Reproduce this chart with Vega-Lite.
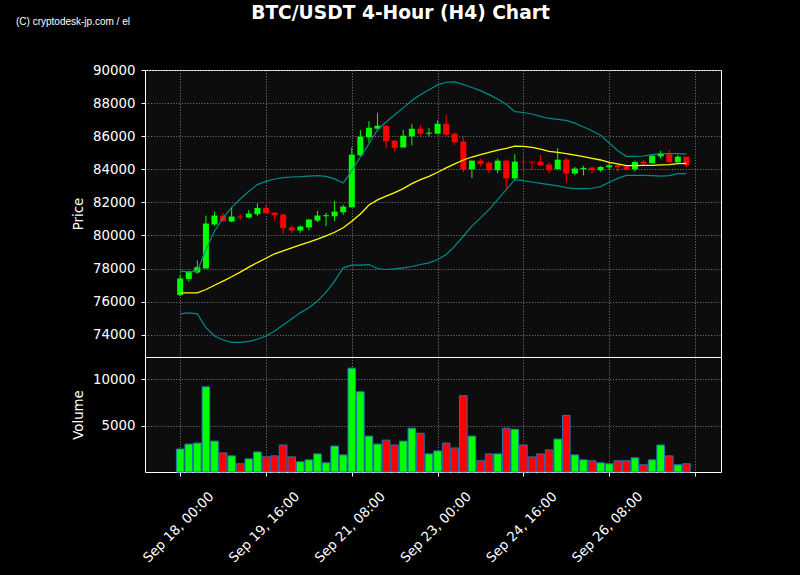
{
  "$schema": "https://vega.github.io/schema/vega-lite/v6.json",
  "background": "black",
  "padding": {"left": 15, "top": 3, "right": 80, "bottom": 11},
  "title": {"text": "BTC/USDT 4-Hour (H4) Chart", "color": "white", "font": "DejaVu Sans", "fontSize": 18.67, "fontWeight": "bold", "anchor": "middle", "frame": "bounds", "dx": 32, "dy": 10},
  "data": {"values": [
    {"t": "2024-09-18T00:00", "o": 76390, "h": 77640, "l": 76330, "c": 77400, "v": 2480, "ma": 76530, "up": 77840, "lo": 75260},
    {"t": "2024-09-18T04:00", "o": 77360, "h": 77880, "l": 77200, "c": 77820, "v": 3010, "ma": 76530, "up": 77800, "lo": 75320},
    {"t": "2024-09-18T08:00", "o": 77760, "h": 78480, "l": 77680, "c": 78080, "v": 3120, "ma": 76530, "up": 77840, "lo": 75260},
    {"t": "2024-09-18T12:00", "o": 78000, "h": 81200, "l": 77990, "c": 80720, "v": 9180, "ma": 76730, "up": 79150, "lo": 74420},
    {"t": "2024-09-18T16:00", "o": 80660, "h": 81440, "l": 80580, "c": 81200, "v": 3330, "ma": 76990, "up": 80250, "lo": 73920},
    {"t": "2024-09-18T20:00", "o": 81200, "h": 81360, "l": 80820, "c": 80860, "v": 2060, "ma": 77240, "up": 81060, "lo": 73680},
    {"t": "2024-09-19T00:00", "o": 80840, "h": 81700, "l": 80800, "c": 81140, "v": 1740, "ma": 77500, "up": 81700, "lo": 73530},
    {"t": "2024-09-19T04:00", "o": 81140, "h": 81260, "l": 80920, "c": 81080, "v": 890, "ma": 77780, "up": 82200, "lo": 73530},
    {"t": "2024-09-19T08:00", "o": 81080, "h": 81540, "l": 81040, "c": 81320, "v": 1420, "ma": 78080, "up": 82670, "lo": 73590},
    {"t": "2024-09-19T12:00", "o": 81280, "h": 81940, "l": 81160, "c": 81660, "v": 2160, "ma": 78360, "up": 83070, "lo": 73720},
    {"t": "2024-09-19T16:00", "o": 81660, "h": 81880, "l": 81320, "c": 81340, "v": 1630, "ma": 78620, "up": 83270, "lo": 73920},
    {"t": "2024-09-19T20:00", "o": 81380, "h": 81400, "l": 80900, "c": 81220, "v": 1740, "ma": 78890, "up": 83410, "lo": 74220},
    {"t": "2024-09-20T00:00", "o": 81260, "h": 81300, "l": 80090, "c": 80440, "v": 2910, "ma": 79070, "up": 83490, "lo": 74580},
    {"t": "2024-09-20T04:00", "o": 80480, "h": 80620, "l": 80130, "c": 80300, "v": 1630, "ma": 79250, "up": 83530, "lo": 74960},
    {"t": "2024-09-20T08:00", "o": 80300, "h": 80600, "l": 80150, "c": 80540, "v": 1100, "ma": 79430, "up": 83550, "lo": 75320},
    {"t": "2024-09-20T12:00", "o": 80480, "h": 81000, "l": 80310, "c": 80960, "v": 1310, "ma": 79590, "up": 83590, "lo": 75630},
    {"t": "2024-09-20T16:00", "o": 80900, "h": 81480, "l": 80800, "c": 81200, "v": 1950, "ma": 79770, "up": 83610, "lo": 76030},
    {"t": "2024-09-20T20:00", "o": 81160, "h": 81360, "l": 80560, "c": 81220, "v": 990, "ma": 79970, "up": 83570, "lo": 76570},
    {"t": "2024-09-21T00:00", "o": 81160, "h": 82080, "l": 80860, "c": 81440, "v": 2800, "ma": 80190, "up": 83420, "lo": 77240},
    {"t": "2024-09-21T04:00", "o": 81400, "h": 81860, "l": 81240, "c": 81740, "v": 1840, "ma": 80460, "up": 83170, "lo": 78040},
    {"t": "2024-09-21T08:00", "o": 81700, "h": 85320, "l": 81700, "c": 84880, "v": 11200, "ma": 80860, "up": 83920, "lo": 78200},
    {"t": "2024-09-21T12:00", "o": 84840, "h": 86370, "l": 84780, "c": 85970, "v": 8650, "ma": 81300, "up": 84730, "lo": 78200},
    {"t": "2024-09-21T16:00", "o": 85930, "h": 86910, "l": 85590, "c": 86510, "v": 3870, "ma": 81840, "up": 85530, "lo": 78240},
    {"t": "2024-09-21T20:00", "o": 86450, "h": 87400, "l": 86330, "c": 86630, "v": 3010, "ma": 82150, "up": 86390, "lo": 78000},
    {"t": "2024-09-22T00:00", "o": 86630, "h": 86650, "l": 85280, "c": 85690, "v": 3440, "ma": 82370, "up": 86860, "lo": 77940},
    {"t": "2024-09-22T04:00", "o": 85730, "h": 85750, "l": 85080, "c": 85300, "v": 2910, "ma": 82590, "up": 87290, "lo": 77980},
    {"t": "2024-09-22T08:00", "o": 85320, "h": 86370, "l": 85300, "c": 86030, "v": 3330, "ma": 82830, "up": 87710, "lo": 78040},
    {"t": "2024-09-22T12:00", "o": 85990, "h": 86730, "l": 85450, "c": 86450, "v": 4720, "ma": 83130, "up": 88150, "lo": 78120},
    {"t": "2024-09-22T16:00", "o": 86450, "h": 86690, "l": 85990, "c": 86150, "v": 4180, "ma": 83370, "up": 88500, "lo": 78240},
    {"t": "2024-09-22T20:00", "o": 86150, "h": 86490, "l": 85990, "c": 86210, "v": 1950, "ma": 83570, "up": 88800, "lo": 78340},
    {"t": "2024-09-23T00:00", "o": 86150, "h": 86950, "l": 86130, "c": 86750, "v": 2270, "ma": 83820, "up": 89100, "lo": 78540},
    {"t": "2024-09-23T04:00", "o": 86750, "h": 87280, "l": 85990, "c": 86090, "v": 3120, "ma": 84080, "up": 89260, "lo": 78850},
    {"t": "2024-09-23T08:00", "o": 86150, "h": 86230, "l": 85470, "c": 85630, "v": 2590, "ma": 84320, "up": 89280, "lo": 79350},
    {"t": "2024-09-23T12:00", "o": 85670, "h": 85950, "l": 83820, "c": 84000, "v": 8230, "ma": 84560, "up": 89120, "lo": 79950},
    {"t": "2024-09-23T16:00", "o": 84000, "h": 84540, "l": 83470, "c": 84520, "v": 3870, "ma": 84740, "up": 88940, "lo": 80560},
    {"t": "2024-09-23T20:00", "o": 84520, "h": 84640, "l": 84180, "c": 84320, "v": 1210, "ma": 84880, "up": 88750, "lo": 81060},
    {"t": "2024-09-24T00:00", "o": 84400, "h": 84480, "l": 83760, "c": 83940, "v": 1950, "ma": 85020, "up": 88510, "lo": 81560},
    {"t": "2024-09-24T04:00", "o": 83940, "h": 84640, "l": 83760, "c": 84520, "v": 1950, "ma": 85160, "up": 88250, "lo": 82170},
    {"t": "2024-09-24T08:00", "o": 84520, "h": 84600, "l": 82870, "c": 83450, "v": 4720, "ma": 85260, "up": 87920, "lo": 82770},
    {"t": "2024-09-24T12:00", "o": 83450, "h": 84920, "l": 83330, "c": 84460, "v": 4610, "ma": 85400, "up": 87480, "lo": 83370},
    {"t": "2024-09-24T16:00", "o": 84460, "h": 84920, "l": 83880, "c": 84420, "v": 2910, "ma": 85380, "up": 87430, "lo": 83310},
    {"t": "2024-09-24T20:00", "o": 84460, "h": 84460, "l": 83960, "c": 84400, "v": 1630, "ma": 85320, "up": 87340, "lo": 83230},
    {"t": "2024-09-25T00:00", "o": 84460, "h": 84860, "l": 84220, "c": 84240, "v": 1950, "ma": 85220, "up": 87200, "lo": 83150},
    {"t": "2024-09-25T04:00", "o": 84280, "h": 84440, "l": 83760, "c": 83940, "v": 2380, "ma": 85080, "up": 87070, "lo": 83070},
    {"t": "2024-09-25T08:00", "o": 84000, "h": 85280, "l": 84000, "c": 84580, "v": 3550, "ma": 85020, "up": 87010, "lo": 82990},
    {"t": "2024-09-25T12:00", "o": 84580, "h": 84680, "l": 83150, "c": 83740, "v": 6100, "ma": 84940, "up": 86950, "lo": 82890},
    {"t": "2024-09-25T16:00", "o": 83740, "h": 84140, "l": 83630, "c": 84040, "v": 1840, "ma": 84860, "up": 86790, "lo": 82830},
    {"t": "2024-09-25T20:00", "o": 84000, "h": 84200, "l": 83630, "c": 84080, "v": 1310, "ma": 84760, "up": 86550, "lo": 82830},
    {"t": "2024-09-26T00:00", "o": 84100, "h": 84160, "l": 83760, "c": 83940, "v": 1210, "ma": 84660, "up": 86330, "lo": 82850},
    {"t": "2024-09-26T04:00", "o": 83940, "h": 84180, "l": 83840, "c": 84140, "v": 990, "ma": 84560, "up": 86050, "lo": 82950},
    {"t": "2024-09-26T08:00", "o": 84120, "h": 84360, "l": 83980, "c": 84240, "v": 890, "ma": 84420, "up": 85590, "lo": 83210},
    {"t": "2024-09-26T12:00", "o": 84240, "h": 84320, "l": 83840, "c": 84120, "v": 1210, "ma": 84320, "up": 85120, "lo": 83450},
    {"t": "2024-09-26T16:00", "o": 84180, "h": 84240, "l": 83940, "c": 84000, "v": 1210, "ma": 84220, "up": 84780, "lo": 83630},
    {"t": "2024-09-26T20:00", "o": 84000, "h": 84520, "l": 83860, "c": 84440, "v": 1530, "ma": 84220, "up": 84780, "lo": 83630},
    {"t": "2024-09-27T00:00", "o": 84460, "h": 84560, "l": 84280, "c": 84340, "v": 780, "ma": 84240, "up": 84800, "lo": 83630},
    {"t": "2024-09-27T04:00", "o": 84360, "h": 84880, "l": 84360, "c": 84820, "v": 1310, "ma": 84240, "up": 84880, "lo": 83610},
    {"t": "2024-09-27T08:00", "o": 84780, "h": 85120, "l": 84640, "c": 84960, "v": 2910, "ma": 84260, "up": 84940, "lo": 83590},
    {"t": "2024-09-27T12:00", "o": 84900, "h": 85160, "l": 84420, "c": 84420, "v": 1740, "ma": 84280, "up": 84940, "lo": 83610},
    {"t": "2024-09-27T16:00", "o": 84420, "h": 84860, "l": 84360, "c": 84760, "v": 780, "ma": 84340, "up": 84940, "lo": 83730},
    {"t": "2024-09-27T20:00", "o": 84760, "h": 84760, "l": 84140, "c": 84240, "v": 890, "ma": 84360, "up": 84920, "lo": 83730}
  ]},
  "spacing": 0,
  "bounds": "flush",
  "vconcat": [
    {
      "width": 576,
      "height": 287,
      "title": {"text": "(C) cryptodesk-jp.com / el", "anchor": "start", "frame": "group", "font": "Liberation Sans", "fontSize": 10, "fontWeight": "normal", "color": "white", "offset": 0, "dx": -129, "dy": -36},
      "encoding": {
        "x": {"field": "t", "type": "temporal",
          "scale": {"domain": [{"year": 2024, "month": 9, "date": 17, "hours": 7, "minutes": 36}, {"year": 2024, "month": 9, "date": 28, "hours": 12, "minutes": 7}], "nice": false, "padding": 0},
          "axis": {"values": [{"year": 2024, "month": 9, "date": 18, "hours": 0}, {"year": 2024, "month": 9, "date": 19, "hours": 16}, {"year": 2024, "month": 9, "date": 21, "hours": 8}, {"year": 2024, "month": 9, "date": 23, "hours": 0}, {"year": 2024, "month": 9, "date": 24, "hours": 16}, {"year": 2024, "month": 9, "date": 26, "hours": 8}, {"year": 2024, "month": 9, "date": 28, "hours": 0}], "labels": false, "ticks": false, "domain": false, "grid": true, "title": null}
        },
        "y": {"field": "l", "type": "quantitative", "scale": {"domain": [72650, 90000], "zero": false, "nice": false},
          "axis": {"values": [74000, 76000, 78000, 80000, 82000, 84000, 86000, 88000, 90000], "format": "d", "title": "Price", "grid": true, "labelOverlap": false}}
      },
      "layer": [
        {"mark": {"type": "rule", "strokeWidth": 1},
         "encoding": {
           "y2": {"field": "h"},
           "color": {"condition": {"test": "datum.c >= datum.o", "value": "#00ff00"}, "value": "#ff0000"}
         }},
        {"mark": {"type": "bar", "size": 6},
         "encoding": {
           "y": {"field": "o", "type": "quantitative"},
           "y2": {"field": "c"},
           "color": {"condition": {"test": "datum.c >= datum.o", "value": "#00ff00"}, "value": "#ff0000"}
         }},
        {"mark": {"type": "line", "color": "#008b8b", "strokeWidth": 1.2}, "encoding": {"y": {"field": "up", "type": "quantitative"}}},
        {"mark": {"type": "line", "color": "#008b8b", "strokeWidth": 1.2}, "encoding": {"y": {"field": "lo", "type": "quantitative"}}},
        {"mark": {"type": "line", "color": "#ffff00", "strokeWidth": 1.3}, "encoding": {"y": {"field": "ma", "type": "quantitative"}}}
      ]
    },
    {
      "width": 576,
      "height": 115,
      "mark": {"type": "bar", "size": 7.6, "stroke": "#1f77b4", "strokeWidth": 1},
      "encoding": {
        "x": {"field": "t", "type": "temporal",
          "scale": {"domain": [{"year": 2024, "month": 9, "date": 17, "hours": 7, "minutes": 36}, {"year": 2024, "month": 9, "date": 28, "hours": 12, "minutes": 7}], "nice": false, "padding": 0},
          "axis": {"values": [{"year": 2024, "month": 9, "date": 18, "hours": 0}, {"year": 2024, "month": 9, "date": 19, "hours": 16}, {"year": 2024, "month": 9, "date": 21, "hours": 8}, {"year": 2024, "month": 9, "date": 23, "hours": 0}, {"year": 2024, "month": 9, "date": 24, "hours": 16}, {"year": 2024, "month": 9, "date": 26, "hours": 8}, {"year": 2024, "month": 9, "date": 28, "hours": 0}],
            "labelExpr": "date(datum.value) == 28 ? '' : timeFormat(datum.value, '%b %d, %H:%M')",
            "labelAngle": 315, "labelAlign": "center", "labelBaseline": "middle", "labelPadding": 51, "labelOffset": -2, "labelOverlap": false, "labelFlush": false, "grid": true, "title": null}
        },
        "y": {"field": "v", "type": "quantitative", "scale": {"domain": [0, 12400], "nice": false},
          "axis": {"values": [5000, 10000], "format": "d", "title": "Volume", "grid": true, "labelOverlap": false}},
        "color": {"condition": {"test": "datum.c >= datum.o", "value": "#00ff00"}, "value": "#ff0000"}
      }
    }
  ],
  "config": {
    "view": {"stroke": "white", "strokeWidth": 1, "fill": "#0d0d0d"},
    "axis": {"labelColor": "white", "titleColor": "white", "tickColor": "white", "tickSize": 4, "domain": false,
      "gridColor": "#8a8a8a", "gridDash": [1, 1.8], "gridWidth": 0.9, "labelOverlap": false,
      "labelFont": "DejaVu Sans", "labelFontSize": 13.33, "labelPadding": 6,
      "titleFont": "DejaVu Sans", "titleFontSize": 13.33, "titleFontWeight": "normal", "titlePadding": 7},
    "axisY": {"labelOverlap": false}
  }
}
